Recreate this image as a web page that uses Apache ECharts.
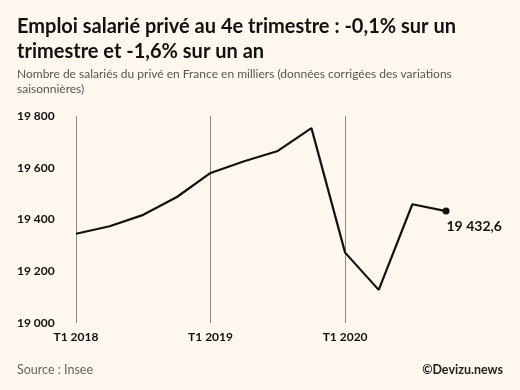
<!DOCTYPE html>
<html><head><meta charset="utf-8">
<script src="https://cdn.jsdelivr.net/npm/echarts@6/dist/echarts.min.js"></script>
<style>html,body{margin:0;padding:0;background:#fdf7ee;}#c{width:520px;height:390px;}</style>
</head><body><div id="c"></div>
<script>
const categories = ["T1 2018","T2 2018","T3 2018","T4 2018","T1 2019","T2 2019","T3 2019","T4 2019","T1 2020","T2 2020","T3 2020","T4 2020"];
const values = [19345, 19374, 19418, 19487, 19580, 19625, 19665, 19753, 19272, 19128, 19459, 19432.6];
const yTicks = [19000, 19200, 19400, 19600, 19800];
const titleText = "Emploi salarié privé au 4e trimestre : -0,1% sur un\ntrimestre et -1,6% sur un an";
const subtitleText = "Nombre de salariés du privé en France en milliers (données corrigées des variations\nsaisonnières)";
const sourceText = "Source : Insee";
const creditText = "©Devizu.news";
const FONT = "Lato";
function fmt(v){ return String(v).replace('.', ',').replace(/\B(?=(\d{3})+(?!\d))/g, ' '); }
const chart = echarts.init(document.getElementById('c'));
const lastIdx = values.length - 1;
chart.setOption({
  backgroundColor: '#fdf7ee',
  animation: false,
  title: [
    {text: titleText, left: 17, top: 14, padding: 0, textStyle: {fontFamily: FONT, fontWeight: 'bold', fontSize: 20, color: '#111', lineHeight: 25}},
    {text: subtitleText, left: 17, top: 67, padding: 0, textStyle: {fontFamily: FONT, fontWeight: 'normal', fontSize: 12, color: '#555', lineHeight: 14.5}},
    {text: sourceText, left: 17, top: 363, padding: 0, textStyle: {fontFamily: FONT, fontWeight: 'normal', fontSize: 12.5, color: '#666'}},
    {text: creditText, right: 17, top: 363, padding: 0, textStyle: {fontFamily: FONT, fontWeight: 'bold', fontSize: 12.5, color: '#222'}}
  ],
  grid: {left: 76, right: 74, top: 116, bottom: 67},
  xAxis: {
    type: 'category', data: categories, boundaryGap: false,
    axisLine: {show: false}, axisTick: {show: false},
    axisLabel: {interval: 3, fontFamily: FONT, fontWeight: 'bold', fontSize: 12, color: '#111', margin: 8},
    splitLine: {show: true, interval: 3, lineStyle: {color: '#888', width: 1}}
  },
  yAxis: {
    type: 'value', min: yTicks[0], max: yTicks[yTicks.length-1], interval: 200,
    axisLine: {show: false}, axisTick: {show: false}, splitLine: {show: false},
    axisLabel: {align: 'left', margin: 59, fontFamily: FONT, fontWeight: 'bold', fontSize: 12, color: '#111', formatter: v => fmt(v)}
  },
  series: [{
    type: 'line', data: values.map((v, i) => i === lastIdx ? {
      value: v, symbol: 'circle', symbolSize: 7,
      label: {show: true, position: [4, 12], formatter: p => fmt(p.value), fontFamily: FONT, fontWeight: 'bold', fontSize: 14, color: '#111'}
    } : {value: v, symbol: 'none'}),
    lineStyle: {color: '#111', width: 2.2}, itemStyle: {color: '#111'}, silent: true
  }]
});
</script></body></html>
